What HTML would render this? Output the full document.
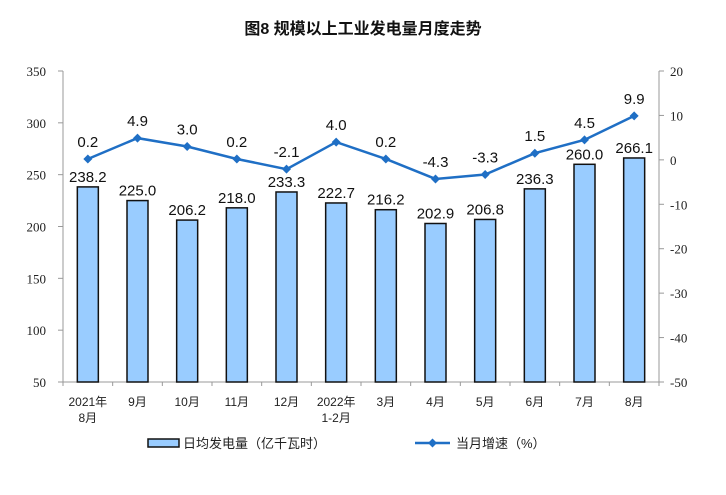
<!DOCTYPE html>
<html><head><meta charset="utf-8"><style>
body{margin:0;background:#fff;}
svg{display:block;}
.s{font-family:"Liberation Sans","Noto Sans CJK SC",sans-serif;}
.t{font-family:"Liberation Serif",serif;font-size:13px;fill:#222;}
.v{font-family:"Liberation Sans",sans-serif;font-size:15px;fill:#111;text-anchor:middle;}
.c{font-family:"Liberation Sans","Noto Sans CJK SC",sans-serif;font-size:12px;fill:#222;text-anchor:middle;}
</style></head><body>
<svg width="726" height="495" xmlns="http://www.w3.org/2000/svg">
<text x="363" y="34" class="s" font-size="16" font-weight="bold" text-anchor="middle" fill="#111">图8  规模以上工业发电量月度走势</text>
<g stroke="#999" stroke-width="1">
<line x1="63" y1="71" x2="63" y2="382"/>
<line x1="659" y1="71" x2="659" y2="382"/>
<line x1="63" y1="382" x2="659" y2="382"/>
</g>
<g id="ax"></g>
<g id="bars"></g>
<g id="line"></g>
<g>
<rect x="148" y="439" width="31" height="8" fill="#99ccff" stroke="#111" stroke-width="1.5"/>
<text x="183" y="448" class="s" font-size="13" fill="#222">日均发电量（亿千瓦时）</text>
<line x1="415" y1="443" x2="450" y2="443" stroke="#1f6fc5" stroke-width="2.5"/>
<path d="M432.5 438.5 L437 443 L432.5 447.5 L428 443Z" fill="#1f6fc5"/>
<text x="456" y="448" class="s" font-size="13" fill="#222">当月增速（%）</text>
</g>
</svg>
<script>
var ns="http://www.w3.org/2000/svg",svg=document.querySelector("svg");
function el(t,a,txt){var e=document.createElementNS(ns,t);for(var k in a)e.setAttribute(k,a[k]);if(txt!=null)e.textContent=txt;svg.appendChild(e);return e;}
var y0=382,y1=71,ly=function(v){return y0-(v-50)*(y0-y1)/300;},ry=function(v){return y0-(v+50)*(y0-y1)/70;};
for(var v=50;v<=350;v+=50){var y=ly(v);el("line",{x1:58,x2:63,y1:y,y2:y,stroke:"#999"});el("text",{x:46,y:y+5,class:"t","text-anchor":"end"},v);}
for(var v=-50;v<=20;v+=10){var y=ry(v);el("line",{x1:659,x2:664,y1:y,y2:y,stroke:"#999"});el("text",{x:670,y:y+5,class:"t"},v);}
var cw=596/12;
for(var i=0;i<=12;i++){var x=63+i*cw;el("line",{x1:x,x2:x,y1:382,y2:386,stroke:"#999"});}
var bars=[238.2,225.0,206.2,218.0,233.3,222.7,216.2,202.9,206.8,236.3,260.0,266.1];
var g=[0.2,4.9,3.0,0.2,-2.1,4.0,0.2,-4.3,-3.3,1.5,4.5,9.9];
var cats=[["2021年","8月"],["9月"],["10月"],["11月"],["12月"],["2022年","1-2月"],["3月"],["4月"],["5月"],["6月"],["7月"],["8月"]];
var pts=[];
for(var i=0;i<12;i++){var cx=63+(i+0.5)*cw,t=ly(bars[i]);
el("rect",{x:cx-10.5,y:t,width:21,height:382-t,fill:"#99ccff",stroke:"#111","stroke-width":1.5});
el("text",{x:cx,y:t-5,class:"v"},bars[i].toFixed(1));
cats[i].forEach(function(s,j){el("text",{x:cx,y:406+j*16,class:"c"},s);});
pts.push(cx+","+ry(g[i]));}
el("polyline",{points:pts.join(" "),fill:"none",stroke:"#1f6fc5","stroke-width":2.5});
for(var i=0;i<12;i++){var cx=63+(i+0.5)*cw,y=ry(g[i]);
el("path",{d:"M"+cx+" "+(y-4.5)+" L"+(cx+4.5)+" "+y+" L"+cx+" "+(y+4.5)+" L"+(cx-4.5)+" "+y+"Z",fill:"#1f6fc5"});
el("text",{x:cx,y:y-12,class:"v"},g[i].toFixed(1));}
</script>
</body></html>
